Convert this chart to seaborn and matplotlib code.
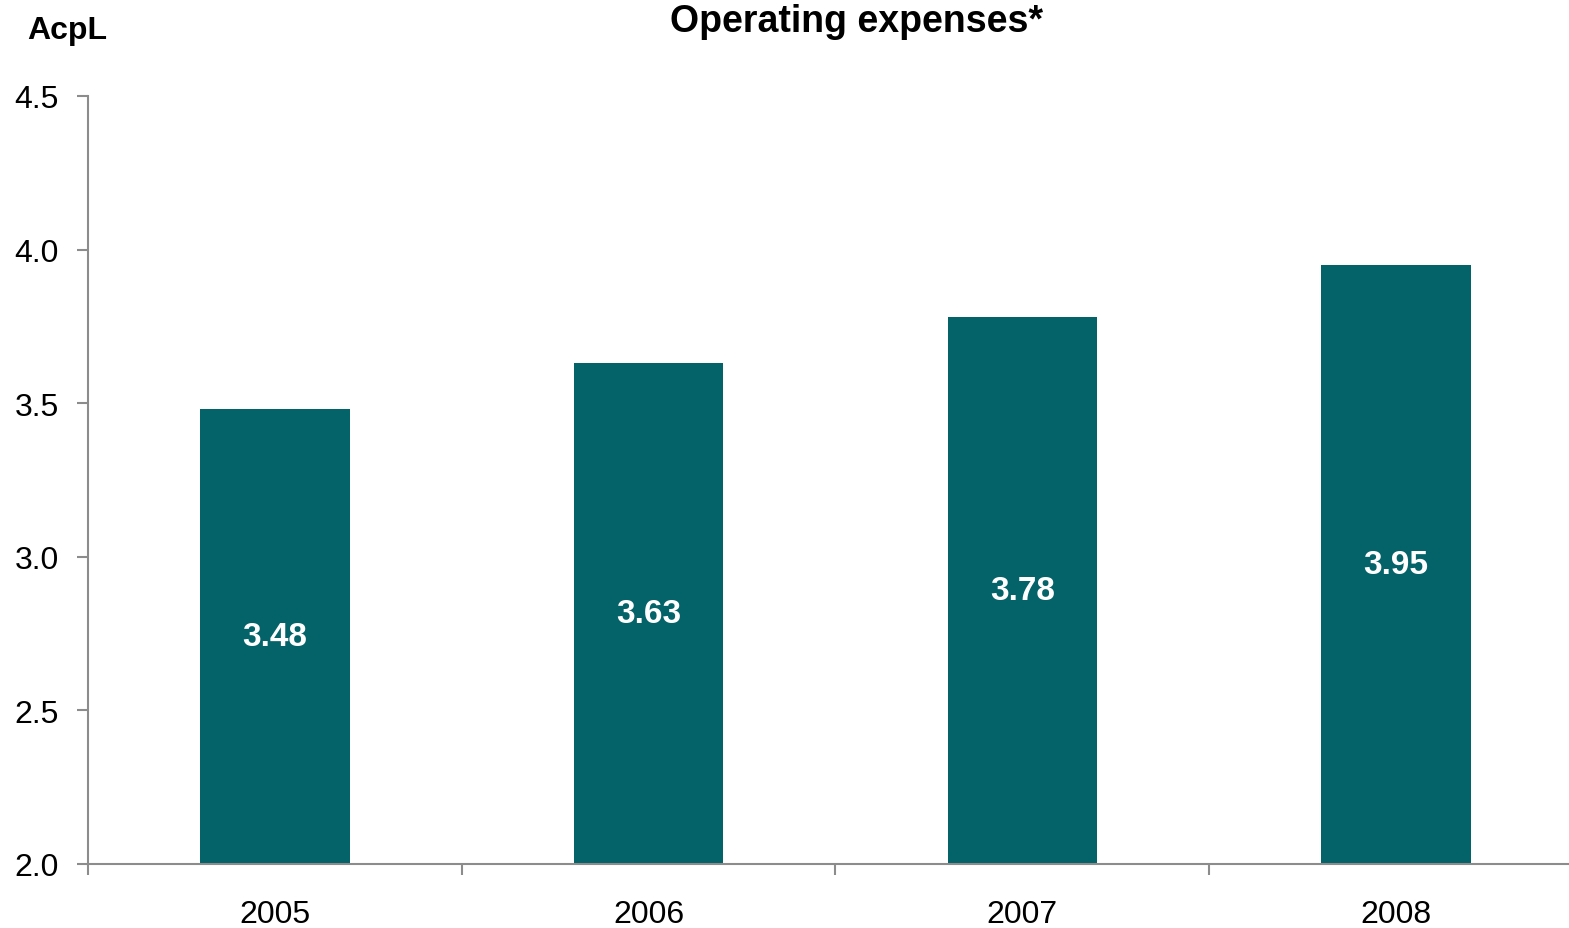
import numpy as np
import pandas as pd
import matplotlib
matplotlib.use("Agg")
import matplotlib.pyplot as plt
import seaborn as sns

# Data
years = ["2005", "2006", "2007", "2008"]
expenses = [3.48, 3.63, 3.78, 3.95]
y_ticks = [2.0, 2.5, 3.0, 3.5, 4.0, 4.5]

df = pd.DataFrame({"year": years, "expenses": expenses})

sns.set_style("white")
plt.rcParams["font.family"] = ["Liberation Sans", "DejaVu Sans"]
plt.rcParams["text.color"] = "black"
plt.rcParams["xtick.color"] = "black"
plt.rcParams["ytick.color"] = "black"

W, H = 1569, 929
fig = plt.figure(figsize=(W / 100, H / 100), dpi=100)
# axes reaches past the right edge, like the original
left, right, bottom, top = 88, 1583, 865, 97
ax = fig.add_axes([left / W, (H - bottom) / H, (right - left) / W, (bottom - top) / H])

bar_color = "#036369"
sns.barplot(data=df, x="year", y="expenses", color=bar_color, width=0.4,
            saturation=1, ax=ax, edgecolor="none")

ax.set_ylim(2.0, 4.5)
ax.set_xlim(-0.5, 3.5)
ax.set_yticks(y_ticks)
ax.set_yticklabels([f"{t:.1f}" for t in y_ticks])
ax.set_xlabel("")
ax.set_ylabel("")

# value labels in the middle of each bar
for i, v in enumerate(expenses):
    ax.text(i, (2.0 + v) / 2, f"{v:.2f}", ha="center", va="center",
            color="white", fontsize=24, fontweight="bold")

for s in ["top", "right"]:
    ax.spines[s].set_visible(False)
for s in ["left", "bottom"]:
    ax.spines[s].set_color("#8c8c8c")
    ax.spines[s].set_linewidth(1.5)

ax.tick_params(axis="y", which="major", direction="out", length=8, width=1.5,
               color="#8c8c8c", labelcolor="black", labelsize=23, pad=13, left=True)
ax.tick_params(axis="x", which="major", length=0, labelsize=23, pad=25,
               labelcolor="black")
ax.set_xticks([-0.5, 0.5, 1.5, 2.5], minor=True)
ax.tick_params(axis="x", which="minor", direction="out", length=8, width=1.5,
               color="#8c8c8c", bottom=True)

fig.text(857 / W, 1 - 22 / H, "Operating expenses*", ha="center", va="center",
         fontsize=27, fontweight="bold", color="black")
fig.text(27 / W, 1 - 31 / H, "AcpL", ha="left", va="center",
         fontsize=23, fontweight="bold", color="black")

fig.savefig("out.png", dpi=100)
